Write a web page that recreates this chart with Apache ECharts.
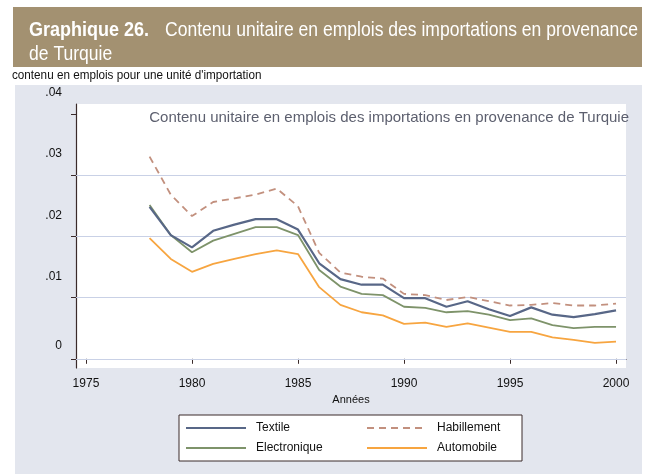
<!DOCTYPE html>
<html>
<head>
<meta charset="utf-8">
<script src="https://cdn.jsdelivr.net/npm/echarts@6/dist/echarts.min.js"></script>
<style>
  html, body { margin: 0; padding: 0; background: #fff; }
  #main { width: 653px; height: 474px; }
</style>
</head>
<body>
<div id="main"></div>
<script>
// années 1978-2000
var years = [1978, 1979, 1980, 1981, 1982, 1983, 1984, 1985, 1986, 1987, 1988, 1989,
             1990, 1991, 1992, 1993, 1994, 1995, 1996, 1997, 1998, 1999, 2000];

var textile = [0.0248, 0.0202, 0.0182, 0.0209, 0.0219, 0.0228, 0.0228, 0.0211, 0.0156, 0.0130, 0.0121, 0.0121,
               0.0099, 0.0099, 0.0085, 0.0094, 0.0081, 0.0070, 0.0084, 0.0072, 0.0068, 0.0073, 0.0079];
var habillement = [0.0330, 0.0268, 0.0233, 0.0256, 0.0262, 0.0268, 0.0278, 0.0249, 0.0173, 0.0141, 0.0134, 0.0131,
                   0.0106, 0.0104, 0.0096, 0.0101, 0.0094, 0.0087, 0.0088, 0.0091, 0.0087, 0.0087, 0.0090];
var electronique = [0.0251, 0.0202, 0.0174, 0.0193, 0.0204, 0.0215, 0.0215, 0.0202, 0.0145, 0.0118, 0.0106, 0.0104,
                    0.0085, 0.0083, 0.0076, 0.0078, 0.0072, 0.0063, 0.0066, 0.0055, 0.0050, 0.0052, 0.0052];
var automobile = [0.0197, 0.0163, 0.0142, 0.0155, 0.0163, 0.0171, 0.0177, 0.0171, 0.0117, 0.0088, 0.0076, 0.0071,
                  0.0057, 0.0059, 0.0052, 0.0058, 0.0051, 0.0044, 0.0044, 0.0035, 0.0031, 0.0026, 0.0028];

var xTicks = [1975, 1980, 1985, 1990, 1995, 2000];
var yTicks = [0, 0.01, 0.02, 0.03, 0.04];
var gridValues = [0, 0.01, 0.02, 0.03];

function pairs(vals) {
  var res = [];
  for (var i = 0; i < years.length; i++) {
    res.push([years[i], vals[i]]);
  }
  return res;
}

var font = '"Liberation Sans", Arial, sans-serif';
var bannerFont = '20px "Liberation Sans", Arial, sans-serif';
var myChart = echarts.init(document.getElementById('main'));

var option = {
  backgroundColor: '#fff',
  animation: false,
  textStyle: { fontFamily: font },
  graphic: [
    { type: 'rect', shape: { x: 15, y: 85, width: 627, height: 389 }, style: { fill: '#e3e6ee' }, z: -10 },
    { type: 'rect', shape: { x: 13, y: 7, width: 629, height: 60 }, style: { fill: '#a39171' } },
    { type: 'text', x: 29, y: 20, scaleX: 0.9, style: { text: 'Graphique 26.', fill: '#fff', font: 'bold ' + bannerFont } },
    { type: 'text', x: 165, y: 20, scaleX: 0.877, style: { text: 'Contenu unitaire en emplois des importations en provenance', fill: '#fff', font: bannerFont } },
    { type: 'text', x: 29, y: 44, scaleX: 0.877, style: { text: 'de Turquie', fill: '#fff', font: bannerFont } },
    { type: 'text', x: 12, y: 69, scaleX: 0.9, style: { text: "contenu en emplois pour une unité d'importation", fill: '#111', font: '13px ' + font } },
    { type: 'rect', shape: { x: 179, y: 415, width: 343, height: 46 }, style: { fill: '#fff', stroke: '#3a2a2a', lineWidth: 1 } }
  ],
  title: {
    text: 'Contenu unitaire en emplois des importations en provenance de Turquie',
    right: 19, top: 105,
    textStyle: { fontSize: 15, fontWeight: 'normal', color: '#5c5f6e', fontFamily: font }
  },
  legend: [
    {
      data: ['Textile', 'Electronique'],
      orient: 'vertical', left: 180, top: 417,
      itemWidth: 60, itemHeight: 14, itemGap: 8,
      itemStyle: { opacity: 0 },
      textStyle: { fontSize: 12, color: '#111', padding: [0, 0, 0, 5] }
    },
    {
      data: ['Habillement', 'Automobile'],
      orient: 'vertical', left: 361, top: 417,
      itemWidth: 60, itemHeight: 14, itemGap: 8,
      itemStyle: { opacity: 0 },
      textStyle: { fontSize: 12, color: '#111', padding: [0, 0, 0, 5] }
    }
  ],
  grid: {
    left: 76, right: 27, top: 104, bottom: 106,
    show: true, backgroundColor: '#fff', borderWidth: 0
  },
  xAxis: {
    type: 'value',
    min: 1974.53, max: 2000.47,
    name: 'Années', nameLocation: 'middle', nameGap: 26,
    nameTextStyle: { fontSize: 11, color: '#111' },
    axisLine: { lineStyle: { color: '#3a2a2a', width: 1.2 } },
    axisTick: { customValues: xTicks, length: 5, lineStyle: { color: '#3a2a2a' } },
    axisLabel: {
      customValues: xTicks, fontSize: 12, color: '#111', margin: 10,
      formatter: function (v) { return String(v); }
    },
    splitLine: { show: false }
  },
  yAxis: {
    type: 'value',
    min: -0.0015, max: 0.0416,
    axisLine: { show: true, lineStyle: { color: '#3a2a2a', width: 1.2 } },
    axisTick: { show: true, customValues: yTicks, length: 5, lineStyle: { color: '#3a2a2a' } },
    axisLabel: {
      customValues: yTicks, fontSize: 12, color: '#111', margin: 14,
      formatter: function (v) {
        if (v === 0) return '{z|0}';
        return '{n|' + v.toFixed(2).replace('0.', '.') + '}';
      },
      rich: {
        z: { fontSize: 12, color: '#111', padding: [0, 0, 26, 0] },
        n: { fontSize: 12, color: '#111', padding: [0, 0, 42, 0] }
      }
    },
    splitLine: { show: false }
  },
  series: [
    {
      name: 'Textile', type: 'line', data: pairs(textile), symbol: 'none',
      lineStyle: { color: '#586787', width: 2.2 }, itemStyle: { color: '#586787' }, z: 4,
      markLine: {
        silent: true, symbol: 'none', label: { show: false },
        lineStyle: { color: '#c9d1e6', width: 1, type: 'solid' },
        data: gridValues.map(function (v) { return { yAxis: v }; }),
        z: 1
      }
    },
    {
      name: 'Habillement', type: 'line', data: pairs(habillement), symbol: 'none',
      lineStyle: { color: '#c2907e', width: 1.8, type: [7, 5] }, itemStyle: { color: '#c2907e' }, z: 3
    },
    {
      name: 'Electronique', type: 'line', data: pairs(electronique), symbol: 'none',
      lineStyle: { color: '#7e936a', width: 1.8 }, itemStyle: { color: '#7e936a' }, z: 3
    },
    {
      name: 'Automobile', type: 'line', data: pairs(automobile), symbol: 'none',
      lineStyle: { color: '#f7a540', width: 1.8 }, itemStyle: { color: '#f7a540' }, z: 3
    }
  ]
};

myChart.setOption(option);
</script>
</body>
</html>
